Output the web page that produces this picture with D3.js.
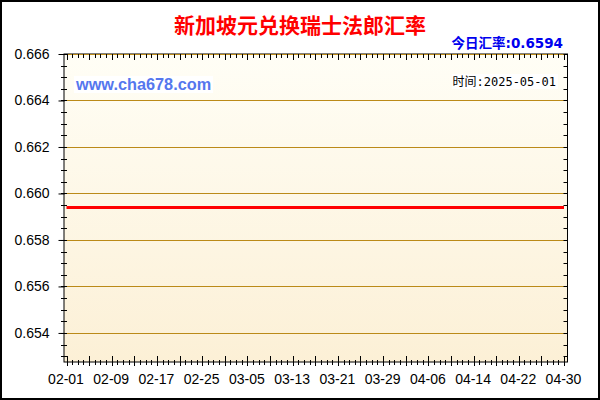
<!DOCTYPE html>
<html>
<head>
<meta charset="utf-8">
<script src="https://cdn.jsdelivr.net/npm/d3@7"></script>
<style>
  body { margin: 0; background: #fff; }
  svg { display: block; }
</style>
</head>
<body>
<svg id="chart" width="600" height="400"></svg>
<script>
const width = 600, height = 400;

// data: SGD -> CHF daily rate, 2025-02-01 .. 2025-04-30
const startDate = "2025-02-01", endDate = "2025-04-30";
const rates = [
  0.6594, 0.6594, 0.6594, 0.6594, 0.6594, 0.6594, 0.6594, 0.6594, 0.6594, 0.6594,
  0.6594, 0.6594, 0.6594, 0.6594, 0.6594, 0.6594, 0.6594, 0.6594, 0.6594, 0.6594,
  0.6594, 0.6594, 0.6594, 0.6594, 0.6594, 0.6594, 0.6594, 0.6594, 0.6594, 0.6594,
  0.6594, 0.6594, 0.6594, 0.6594, 0.6594, 0.6594, 0.6594, 0.6594, 0.6594, 0.6594,
  0.6594, 0.6594, 0.6594, 0.6594, 0.6594, 0.6594, 0.6594, 0.6594, 0.6594, 0.6594,
  0.6594, 0.6594, 0.6594, 0.6594, 0.6594, 0.6594, 0.6594, 0.6594, 0.6594, 0.6594,
  0.6594, 0.6594, 0.6594, 0.6594, 0.6594, 0.6594, 0.6594, 0.6594, 0.6594, 0.6594,
  0.6594, 0.6594, 0.6594, 0.6594, 0.6594, 0.6594, 0.6594, 0.6594, 0.6594, 0.6594,
  0.6594, 0.6594, 0.6594, 0.6594, 0.6594, 0.6594, 0.6594, 0.6594, 0.6594
];
const xLabels = ["02-01", "02-09", "02-17", "02-25", "03-05", "03-13", "03-21", "03-29", "04-06", "04-14", "04-22", "04-30"];
const yTicks = [0.654, 0.656, 0.658, 0.660, 0.662, 0.664, 0.666];
const yDomain = [0.65275, 0.666];
const title = "新加坡元兑换瑞士法郎汇率";
const todayRate = "今日汇率:0.6594";
const updated = "时间:2025-05-01";
const site = "www.cha678.com";

const parse = d3.timeParse("%Y-%m-%d");
const fmt = d3.timeFormat("%m-%d");
const days = d3.timeDay.range(parse(startDate), d3.timeDay.offset(parse(endDate), 1));
const data = days.map((d, i) => ({ date: d, value: rates[i] }));

// plot frame
const pLeft = 64, pRight = 567.5, pTop = 54, pBottom = 362;

const x = d3.scaleTime()
  .domain([parse(startDate), parse(endDate)])
  .range([66.5, 564]);
const y = d3.scaleLinear()
  .domain(yDomain)
  .range([pBottom, pTop]);

const svg = d3.select("#chart");

// background gradient
const grad = svg.append("defs").append("linearGradient")
  .attr("id", "bg").attr("x1", 0).attr("y1", 0).attr("x2", 0).attr("y2", 1);
grad.append("stop").attr("offset", "0%").attr("stop-color", "#fffef6");
grad.append("stop").attr("offset", "100%").attr("stop-color", "#fcf0d6");

// outer border
svg.append("rect")
  .attr("x", 1).attr("y", 1).attr("width", width - 2).attr("height", height - 2)
  .attr("fill", "#fff").attr("stroke", "#000").attr("stroke-width", 2);

svg.append("rect")
  .attr("x", pLeft).attr("y", pTop).attr("width", pRight - pLeft).attr("height", pBottom - pTop)
  .attr("fill", "url(#bg)").attr("stroke", "#000").attr("stroke-width", 1);

// gridlines
svg.append("g").selectAll("line")
  .data(yTicks)
  .join("line")
  .attr("x1", pLeft).attr("x2", pRight - 3)
  .attr("y1", d => Math.round(y(d)) + 0.5).attr("y2", d => Math.round(y(d)) + 0.5)
  .attr("stroke", "#bb8a18").attr("stroke-width", 1);

// minor tick positions
const minorY = d3.range(0.653, 0.6661, 0.0005);
const isMajorDay = d => d3.timeDay.count(parse(startDate), d) % 4 === 0;

const ticks = svg.append("g").attr("stroke", "#000").attr("stroke-width", 1);
// left axis minor ticks (crossing)
ticks.selectAll(".ly").data(minorY).join("line").attr("class", "ly")
  .attr("x1", pLeft - 3).attr("x2", pLeft + 3)
  .attr("y1", d => Math.round(y(d)) + 0.5).attr("y2", d => Math.round(y(d)) + 0.5);
// right axis ticks (inward)
ticks.selectAll(".ry").data(minorY).join("line").attr("class", "ry")
  .attr("x1", pRight - 4).attr("x2", pRight)
  .attr("y1", d => Math.round(y(d)) + 0.5).attr("y2", d => Math.round(y(d)) + 0.5);
// top ticks (downward)
ticks.selectAll(".tx").data(days).join("line").attr("class", "tx")
  .attr("x1", d => Math.round(x(d)) + 0.5).attr("x2", d => Math.round(x(d)) + 0.5)
  .attr("y1", pTop).attr("y2", d => pTop + (isMajorDay(d) ? 6 : 4));
// bottom ticks (crossing)
ticks.selectAll(".bx").data(days).join("line").attr("class", "bx")
  .attr("x1", d => Math.round(x(d)) + 0.5).attr("x2", d => Math.round(x(d)) + 0.5)
  .attr("y1", d => pBottom - (isMajorDay(d) ? 6 : 2)).attr("y2", d => pBottom + (isMajorDay(d) ? 4 : 3));

// left axis with labels
const yAxis = svg.append("g")
  .attr("transform", `translate(${pLeft + 0.5},0)`)
  .call(d3.axisLeft(y).tickValues(yTicks).tickFormat(d3.format(".3f")).tickSize(6).tickPadding(9));
yAxis.select(".domain").remove();
yAxis.selectAll("line").attr("stroke", "#000");
yAxis.selectAll("text")
  .attr("font-family", "Liberation Sans, Arial, sans-serif")
  .attr("font-size", 14).attr("fill", "#000");

// bottom axis labels
const labelDates = xLabels.map(s => parse("2025-" + s));
const xAxis = svg.append("g")
  .attr("transform", `translate(-1,${pBottom})`)
  .call(d3.axisBottom(x).tickValues(labelDates).tickFormat(fmt).tickSize(0).tickPadding(12));
xAxis.select(".domain").remove();
xAxis.selectAll("text")
  .attr("font-family", "Liberation Sans, Arial, sans-serif")
  .attr("font-size", 14).attr("fill", "#000");

// rate line
svg.append("path")
  .datum(data)
  .attr("fill", "none")
  .attr("stroke", "#ff0000")
  .attr("stroke-width", 3)
  .attr("d", d3.line().x(d => x(d.date)).y(d => y(d.value)));

// watermark
svg.append("rect").attr("x", 74).attr("y", 76).attr("width", 139).attr("height", 17).attr("fill", "#fff");
svg.append("text")
  .attr("x", 76).attr("y", 90)
  .attr("font-family", "Liberation Sans, Arial, sans-serif")
  .attr("font-size", 16.3).attr("font-weight", "bold")
  .attr("fill", "#5577ee")
  .text(site);

svg.append("rect").attr("x", 452).attr("y", 74).attr("width", 106).attr("height", 15).attr("fill", "#fff");
svg.append("text")
  .attr("x", 556).attr("y", 86).attr("text-anchor", "end")
  .attr("font-family", "DejaVu Sans Mono, Noto Sans CJK SC, monospace")
  .attr("font-size", 12).attr("fill", "#000")
  .text(updated);

// title and current rate
svg.append("text")
  .attr("x", 300).attr("y", 33).attr("text-anchor", "middle")
  .attr("font-family", "Noto Sans CJK SC, sans-serif")
  .attr("font-size", 21).attr("font-weight", "bold")
  .attr("fill", "#ff0000")
  .text(title);

svg.append("text")
  .attr("x", 563).attr("y", 48).attr("text-anchor", "end")
  .attr("font-family", "DejaVu Sans, Noto Sans CJK SC, sans-serif")
  .attr("font-size", 13.5).attr("font-weight", "bold")
  .attr("fill", "#0000ee")
  .text(todayRate);
</script>
</body>
</html>
